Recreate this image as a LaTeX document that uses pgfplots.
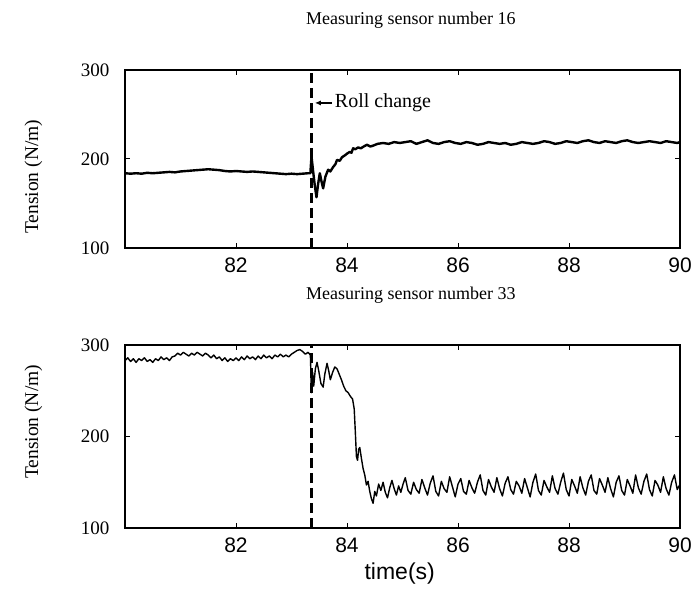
\documentclass[border=0pt]{standalone}
\usepackage{fontspec}
\setmainfont{Liberation Serif}
\newfontfamily\sansf{Liberation Sans}
\usepackage{pgfplots}
\pgfplotsset{compat=1.18}
\usetikzlibrary{arrows.meta}

\pgfplotsset{
  panel/.style={
    scale only axis, width=555pt,
    xmin=80, xmax=90, ymin=100, ymax=300,
    xtick={82,84,86,88,90}, ytick={100,200,300},
    tick align=inside, major tick length=5pt,
    tick style={line width=1pt, black},
    axis line style={line width=1.5pt},
    /pgf/number format/assume math mode=true,
    xticklabel style={font=\sansf\fontsize{21}{23}\selectfont, yshift=-6pt},
    yticklabel style={font=\fontsize{19}{21}\selectfont, xshift=-12pt},
    title style={font=\fontsize{18}{20}\selectfont, at={(axis description cs:0.515,1)}, anchor=center, yshift=44pt},
    clip=true,
  },
  trace/.style={black, line join=round},
  rollline/.style={black, line width=2.6pt, dash pattern=on 10pt off 5pt},
}

\begin{document}
\begin{tikzpicture}
\path[use as bounding box] (0,0) rectangle (696pt,590pt);

% ---------------- top panel ----------------
\begin{axis}[panel, at={(125pt,342pt)}, anchor=south west, height=178pt,
  title={Measuring sensor number 16},
  ylabel={Tension (N/m)},
  ylabel style={font=\fontsize{19.5}{21}\selectfont, at={(axis description cs:-0.165,0.40)}, anchor=center},
]
\addplot[trace, line width=2.4pt] coordinates {
(80.0,184) (80.1,183.5) (80.2,184) (80.3,183.5) (80.4,184.5) (80.5,184) (80.6,184.5) (80.7,185) (80.8,185.5) (80.9,185)
(81.0,186) (81.1,186.5) (81.2,187) (81.3,187.5) (81.4,188) (81.5,188.5) (81.6,188) (81.7,187.5) (81.8,186.5) (81.9,186)
(82.0,186.5) (82.1,186) (82.2,185.5) (82.3,186) (82.4,185.5) (82.5,185) (82.6,184.5) (82.7,184) (82.8,183.5) (82.9,183)
(83.0,183.5) (83.1,183) (83.2,183.5) (83.3,184) (83.34,184)
(83.36,203) (83.39,186) (83.42,170) (83.45,157) (83.48,172) (83.51,184) (83.54,175) (83.57,167) (83.61,180) (83.66,188)
(83.70,186) (83.75,191) (83.79,194) (83.82,199) (83.87,198) (83.91,202) (83.96,204) (84.00,206) (84.05,208) (84.08,207)
(84.11,212) (84.15,211) (84.20,213) (84.25,212) (84.30,214) (84.36,216) (84.42,214) (84.47,215) (84.55,217) (84.65,218)
(84.75,217) (84.85,219) (84.95,218) (85.05,219) (85.15,220)
(85.25,217) (85.35,219) (85.45,221) (85.55,218) (85.65,217) (85.75,219) (85.85,220) (85.95,218) (86.05,217) (86.15,219)
(86.25,218) (86.35,216) (86.45,217) (86.55,219) (86.65,218) (86.75,217) (86.85,218) (86.95,216) (87.05,217) (87.15,219)
(87.25,218) (87.35,217) (87.45,218) (87.55,220) (87.65,219) (87.75,217) (87.85,218) (87.95,220) (88.05,219) (88.15,218)
(88.25,220) (88.35,221) (88.45,219) (88.55,218) (88.65,220) (88.75,219) (88.85,218) (88.95,220) (89.05,221) (89.15,219)
(89.25,218) (89.35,219) (89.45,220) (89.55,219) (89.65,218) (89.75,220) (89.85,219) (89.95,218) (90.0,219)
};
\addplot[rollline] coordinates {(83.36,100) (83.36,300)};
\draw[-{Latex[length=6pt,width=5pt]}, line width=1.2pt] (axis cs:83.73,263) -- (axis cs:83.42,263);
\node[anchor=west, font=\fontsize{20}{22}\selectfont, inner sep=0pt] at (axis cs:83.78,263) {Roll change};
\end{axis}

% ---------------- bottom panel ----------------
\begin{axis}[panel, at={(125pt,62pt)}, anchor=south west, height=183pt,
  title={Measuring sensor number 33},
  ylabel={Tension (N/m)},
  ylabel style={font=\fontsize{19.5}{21}\selectfont, at={(axis description cs:-0.165,0.58)}, anchor=center},
  xlabel={time(s)},
  xlabel style={font=\sansf\fontsize{23}{25}\selectfont, at={(axis description cs:0.495,0)}, anchor=center, yshift=-46pt},
]
\addplot[trace, line width=1.4pt] coordinates {
(80.00,283) (80.05,286) (80.10,282) (80.15,285) (80.20,281) (80.25,285) (80.30,283) (80.35,286) (80.40,282) (80.45,284)
(80.50,281) (80.55,285) (80.60,283) (80.65,287) (80.70,284) (80.75,286) (80.80,283) (80.85,287) (80.90,288) (80.95,291)
(81.00,289) (81.05,292) (81.10,290) (81.15,288) (81.20,291) (81.25,289) (81.30,292) (81.35,290) (81.40,288) (81.45,291)
(81.50,289) (81.55,286) (81.60,289) (81.65,285) (81.70,287) (81.75,283) (81.80,286) (81.85,282) (81.90,285) (81.95,283)
(82.00,286) (82.05,283) (82.10,287) (82.15,284) (82.20,288) (82.25,285) (82.30,287) (82.35,284) (82.40,288) (82.45,285)
(82.50,289) (82.55,286) (82.60,288) (82.65,285) (82.70,289) (82.75,287) (82.80,290) (82.85,287) (82.90,289) (82.95,287)
(83.00,290) (83.05,292) (83.10,294) (83.15,295) (83.20,293) (83.25,290) (83.30,292) (83.34,289)
(83.36,248) (83.38,270) (83.40,255) (83.43,274) (83.46,281) (83.49,272) (83.53,258) (83.57,254) (83.60,268) (83.64,280)
(83.67,272) (83.70,262) (83.74,270) (83.78,276) (83.82,274) (83.86,268) (83.90,262) (83.94,255) (83.98,250) (84.02,248)
(84.06,244) (84.10,241) (84.13,230) (84.15,205) (84.17,178) (84.19,174) (84.21,186) (84.23,188) (84.26,176) (84.29,165)
(84.32,158) (84.35,147) (84.38,151) (84.41,140) (84.44,132) (84.47,127) (84.50,140) (84.53,135) (84.57,148) (84.61,141)
(84.65,150) (84.69,139) (84.73,133) (84.77,144) (84.81,152) (84.85,143) (84.89,136) (84.93,146) (84.97,139) (85.01,148)
(85.05,155) (85.10,141) (85.15,137) (85.20,150) (85.25,142) (85.30,138) (85.35,153) (85.40,144) (85.45,136) (85.50,149)
(85.55,157) (85.60,140) (85.65,135) (85.70,151) (85.75,143) (85.80,139) (85.85,156) (85.90,145) (85.95,134) (86.00,148)
(86.05,154) (86.10,140) (86.15,137) (86.20,152) (86.25,144) (86.30,138) (86.35,150) (86.40,158) (86.45,141) (86.50,136)
(86.55,153) (86.60,145) (86.65,139) (86.70,155) (86.75,143) (86.80,135) (86.85,149) (86.90,156) (86.95,142) (87.00,137)
(87.05,151) (87.10,146) (87.15,138) (87.20,154) (87.25,144) (87.30,134) (87.35,150) (87.40,159) (87.45,141) (87.50,136)
(87.55,152) (87.60,145) (87.65,139) (87.70,157) (87.75,143) (87.80,137) (87.85,150) (87.90,160) (87.95,142) (88.00,135)
(88.05,153) (88.10,146) (88.15,138) (88.20,156) (88.25,144) (88.30,136) (88.35,151) (88.40,158) (88.45,141) (88.50,137)
(88.55,154) (88.60,147) (88.65,139) (88.70,155) (88.75,143) (88.80,134) (88.85,150) (88.90,157) (88.95,141) (89.00,136)
(89.05,153) (89.10,146) (89.15,138) (89.20,158) (89.25,144) (89.30,137) (89.35,151) (89.40,159) (89.45,142) (89.50,135)
(89.55,152) (89.60,147) (89.65,139) (89.70,156) (89.75,143) (89.80,136) (89.85,150) (89.90,158) (89.95,142) (90.00,148)
};
\addplot[rollline] coordinates {(83.36,100) (83.36,300)};
\end{axis}
\end{tikzpicture}
\end{document}
